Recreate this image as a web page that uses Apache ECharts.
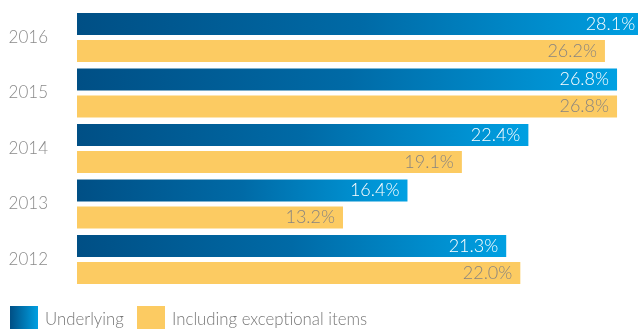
<!DOCTYPE html>
<html>
<head>
<meta charset="utf-8">
<script src="https://cdn.jsdelivr.net/npm/echarts@6/dist/echarts.min.js"></script>
<style>html,body{margin:0;padding:0;background:#fff}#c{width:638px;height:329px}</style>
</head>
<body>
<div id="c"></div>
<script>
var years = ['2016', '2015', '2014', '2013', '2012'];
var underlying = [28.1, 26.8, 22.4, 16.4, 21.3];
var exceptional = [26.2, 26.8, 19.1, 13.2, 22.0];
var seriesNames = ['Underlying', 'Including exceptional items'];

var FONT = 'Lato';
var chart = echarts.init(document.getElementById('c'), null, {renderer: 'canvas'});
var blueGrad = new echarts.graphic.LinearGradient(0, 0, 1, 0, [
  {offset: 0, color: '#004f85'},
  {offset: 0.5, color: '#006aa6'},
  {offset: 1, color: '#00a0e2'}
]);
var legendGrad = new echarts.graphic.LinearGradient(0, 0, 1, 0, [
  {offset: 0, color: '#004f85'},
  {offset: 1, color: '#00a0e2'}
]);
var labelFmt = function (p) { return p.value.toFixed(1) + '%'; };
chart.setOption({
  animation: false,
  grid: {left: 77, top: 9.75, right: 0, height: 277.5, containLabel: false},
  xAxis: {type: 'value', min: 0, max: 27.84, show: false},
  yAxis: {
    type: 'category', data: years, inverse: true,
    axisLine: {show: false}, axisTick: {show: false},
    axisLabel: {color: '#8a8a8a', fontSize: 17, fontFamily: FONT, fontWeight: 300, margin: 29}
  },
  legend: [
    {data: [{name: seriesNames[0], itemStyle: {color: legendGrad}}], icon: 'rect', left: 10, top: 306, itemWidth: 28, itemHeight: 28, itemGap: 0,
     textStyle: {color: '#777', fontSize: 16.8, fontFamily: FONT, fontWeight: 300, padding: [8, 0, 0, 2]}, padding: 0},
    {data: [seriesNames[1]], icon: 'rect', left: 137, top: 306, itemWidth: 28, itemHeight: 28, itemGap: 0,
     textStyle: {color: '#777', fontSize: 16.8, fontFamily: FONT, fontWeight: 300, padding: [8, 0, 0, 2]}, padding: 0}
  ],
  series: [
    {
      name: seriesNames[0], type: 'bar', data: underlying, barWidth: 22, barGap: '23%', clip: false,
      itemStyle: {color: blueGrad},
      label: {show: true, position: 'insideRight', distance: 8, color: '#fff', fontSize: 18, fontFamily: FONT, fontWeight: 300, formatter: labelFmt}
    },
    {
      name: seriesNames[1], type: 'bar', data: exceptional, barWidth: 22, clip: false,
      itemStyle: {color: '#fccb62'},
      label: {show: true, position: 'insideRight', distance: 8, color: '#888480', fontSize: 18, fontFamily: FONT, fontWeight: 300, formatter: labelFmt}
    }
  ]
});
</script>
</body>
</html>
